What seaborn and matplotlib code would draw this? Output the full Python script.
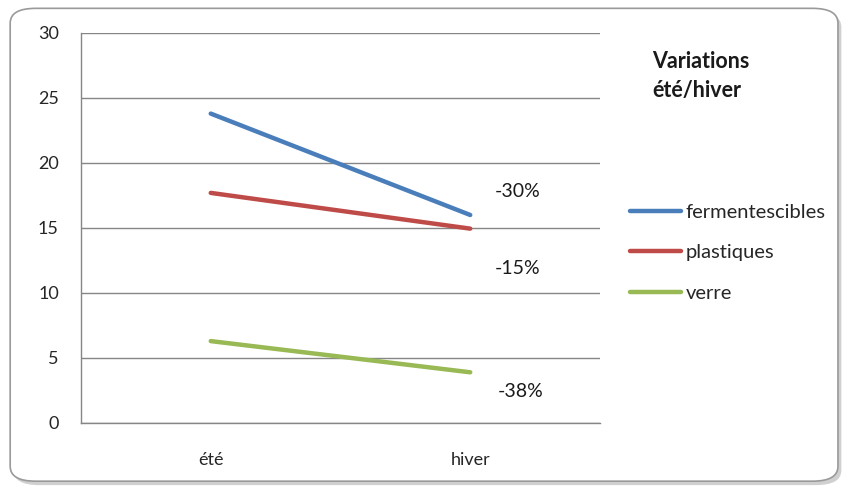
import matplotlib.pyplot as plt
import pandas as pd
import seaborn as sns
from matplotlib.lines import Line2D
from matplotlib.patches import FancyBboxPatch

# chart data
SEASONS = ["été", "hiver"]
FERMENTESCIBLES = [23.8, 16.0]
PLASTIQUES = [17.7, 14.95]
VERRE = [6.3, 3.9]
SERIES_NAMES = ["fermentescibles", "plastiques", "verre"]
VARIATION_LABELS = ["-30%", "-15%", "-38%"]
Y_TICKS = [0, 5, 10, 15, 20, 25, 30]

COLORS = ["#4A7EBB", "#BE4B48", "#98B954"]
GRID = "#868686"

df = pd.DataFrame(
    {
        "saison": SEASONS * 3,
        "valeur": FERMENTESCIBLES + PLASTIQUES + VERRE,
        "serie": [s for s in SERIES_NAMES for _ in SEASONS],
    }
)
df["x"] = df["saison"].map({s: i for i, s in enumerate(SEASONS)})

sns.set_style("white")
plt.rcParams["font.family"] = ["Lato", "DejaVu Sans"]

fig = plt.figure(figsize=(8.49, 4.91), dpi=100)
fig.patch.set_facecolor("white")

# rounded chart frame with a light shadow
shadow = FancyBboxPatch((0.016, 0.012), 0.975, 0.963, boxstyle="round,pad=0,rounding_size=0.03",
                        transform=fig.transFigure, facecolor="#d0d0d0", edgecolor="none", zorder=0)
frame = FancyBboxPatch((0.012, 0.02), 0.975, 0.963, boxstyle="round,pad=0,rounding_size=0.03",
                       transform=fig.transFigure, facecolor="white", edgecolor="#9a9a9a",
                       linewidth=1.2, zorder=1)
fig.patches.extend([shadow, frame])

ax = fig.add_axes([0.0954, 0.1385, 0.6113, 0.7943])
ax.set_zorder(2)
ax.patch.set_alpha(0)

sns.lineplot(data=df, x="x", y="valeur", hue="serie", palette=COLORS, linewidth=3.2,
             legend=False, ax=ax, solid_capstyle="round")

ax.set_xlim(-0.5, len(SEASONS) - 0.5)
ax.set_ylim(0, 30)
ax.set_yticks(Y_TICKS)
ax.set_xticks(range(len(SEASONS)))
ax.set_xticklabels(SEASONS)
ax.set_xticks([i - 0.5 for i in range(len(SEASONS) + 1)], minor=True)
ax.set_xlabel("")
ax.set_ylabel("")
ax.yaxis.grid(True, color=GRID, linewidth=1)
ax.set_axisbelow(True)
for side in ["top", "right"]:
    ax.spines[side].set_visible(False)
for side in ["left", "bottom"]:
    ax.spines[side].set_color(GRID)
    ax.spines[side].set_linewidth(1)
ax.tick_params(axis="y", length=6, color=GRID, labelsize=13, pad=10)
ax.tick_params(axis="x", which="major", length=0, labelsize=13, pad=21)
ax.tick_params(axis="x", which="minor", length=6, color=GRID)

# variation labels next to the winter points
label_pos = [(1.095, 17.8), (1.095, 11.9), (1.105, 2.4)]
for text, (x, y) in zip(VARIATION_LABELS, label_pos):
    ax.text(x, y, text, fontsize=14, ha="left", va="center", color="#1a1a1a")

# legend
fig.text(0.768, 0.845, "Variations\nété/hiver", fontsize=15.5, fontweight="bold",
         ha="left", va="center", linespacing=1.45, color="#1a1a1a")
handles = [Line2D([0], [0], color=c, linewidth=3.2) for c in COLORS]
leg = fig.legend(handles, SERIES_NAMES, loc="center left", bbox_to_anchor=(0.721, 0.485),
                 frameon=False, fontsize=14.5, handlelength=2.5, handletextpad=0.25,
                 labelspacing=1.15)

fig.savefig("out.png", dpi=100)
